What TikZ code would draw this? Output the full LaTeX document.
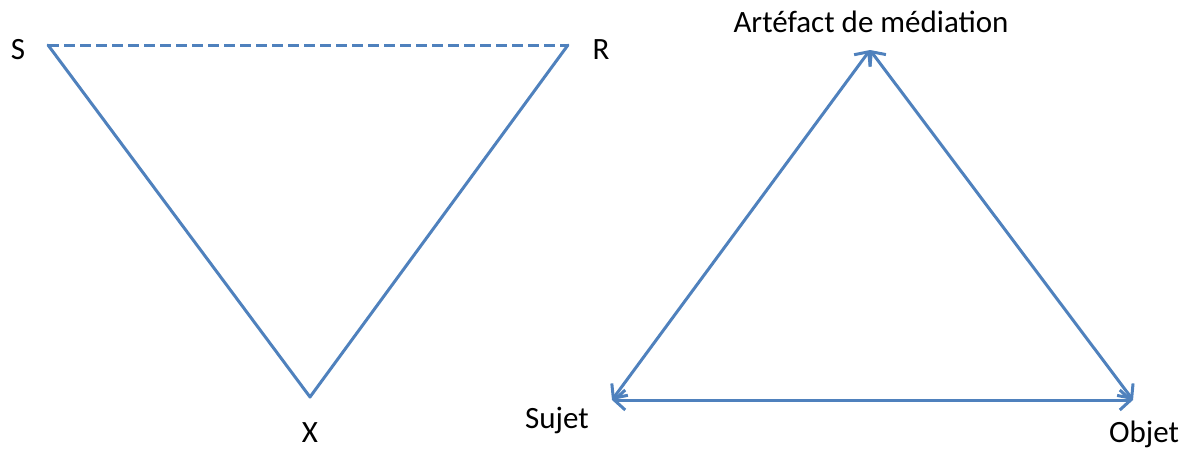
\documentclass[tikz,border=0pt]{standalone}
\usepackage{fontspec}
\setmainfont{Carlito}
\usetikzlibrary{arrows.meta,positioning}
\definecolor{lnblue}{HTML}{4F81BD}

\begin{document}
\begin{tikzpicture}[x=1pt,y=-1pt,
  lbl/.style={font=\fontsize{31}{36}\selectfont,inner sep=0pt,text=black},
  ln/.style={draw=lnblue,line width=3pt,line cap=round},
  tri/.style={ln,{Straight Barb[length=11pt,width=20pt,line width=3pt]}-{Straight Barb[length=11pt,width=20pt,line width=3pt]}}
]
\useasboundingbox (0,0) rectangle (1193,450);
% first triangle
\coordinate (s) at (48,45);
\coordinate (r) at (568,45);
\coordinate (x) at (310,397);
\node[lbl] (sl) at (18,50) {S};
\node[lbl] (rl) at (601,50) {R};
\node[lbl] (xl) at (310,433) {X};
\draw[ln,dashed,dash pattern=on 11pt off 5pt,line cap=butt] (s) -- (r);
\draw[ln,line join=round] (s) -- (x) -- (r);
% second triangle
\coordinate (art) at (870,50);
\coordinate (suj) at (612,400);
\coordinate (obj) at (1133,400);
\node[lbl] (artl) at (871,22) {Artéfact de médiation};
\node[lbl] (sujl) at (557,420) {Sujet};
\node[lbl] (objl) at (1144,434) {Objet};
\draw[tri] (suj) -- (art);
\draw[tri] (art) -- (obj);
\draw[tri] (suj) -- (obj);
\end{tikzpicture}
\end{document}
